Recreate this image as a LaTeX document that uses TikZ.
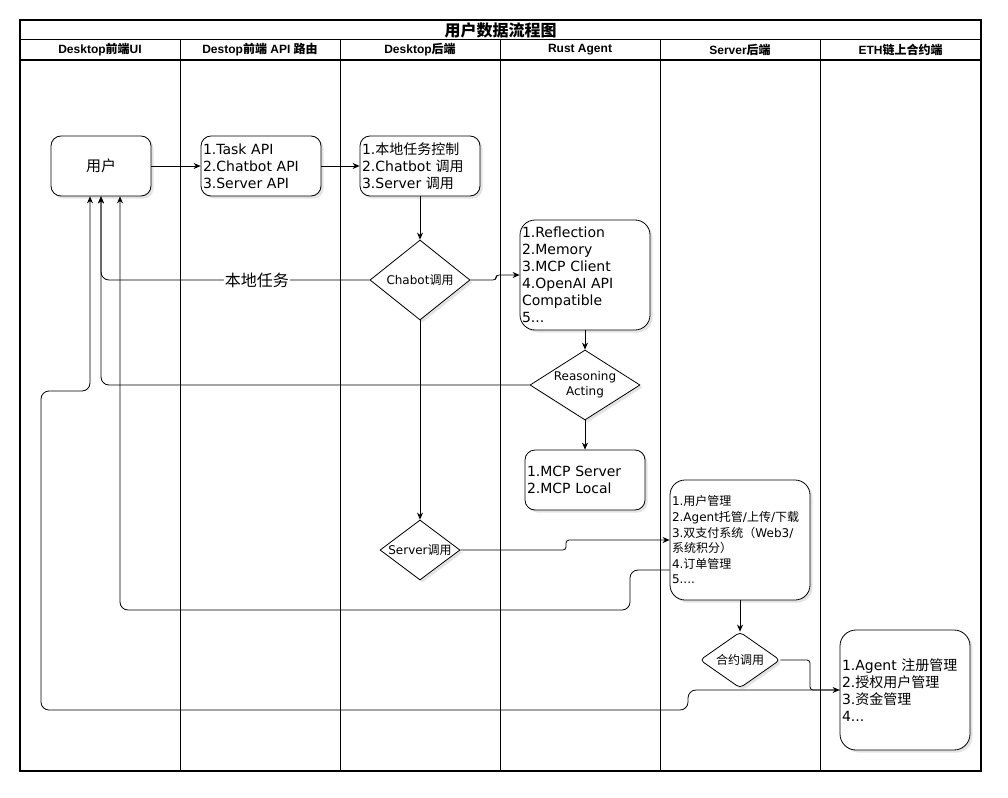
\documentclass[tikz,border=0pt]{standalone}
\usepackage{fontspec}
\setmainfont{DejaVu Sans}
\newfontfamily\cjk{Noto Sans CJK SC}
\newfontfamily\hdrfont{Liberation Sans}
\newcommand{\cj}[1]{{\cjk #1}}
\usetikzlibrary{shapes.geometric,calc,arrows.meta,shadows}

\tikzset{
  frame/.style={draw=black, line width=1pt},
  lanehead/.style={font=\hdrfont\bfseries\fontsize{12}{14}\selectfont, anchor=center},
  shadowed/.style={drop shadow={shadow xshift=2.5pt, shadow yshift=-2.5pt, opacity=.18, fill=black!60}},
  card/.style={draw=black, line width=0.8pt, fill=white, rounded corners=10pt, shadowed,
    align=left, inner sep=2pt, font=\fontsize{14}{17}\selectfont},
  % empty diamond of a fixed size; its text is set as a centred label
  choice/.style={draw=black, line width=0.8pt, fill=white, diamond, inner sep=0pt, shadowed,
    label={[font=\fontsize{12}{15}\selectfont, align=center]center:#1}},
  flow/.style={draw=black, line width=0.8pt, rounded corners=8pt, -{Stealth[length=7pt,width=6pt]}},
  lbl/.style={fill=white, inner sep=1pt, font=\fontsize{16}{18}\selectfont},
}

\begin{document}
\begin{tikzpicture}[x=1pt, y=-1pt]
\useasboundingbox (0,0) rectangle (1008,797);
\fill[white] (0,0) rectangle (1008,797);

% swimlane frame
\draw[frame, line width=1.3pt] (20,20) rectangle (981,771);
\draw[frame] (20,40) -- (981,40);
\draw[frame, line width=1.3pt] (20,60) -- (981,60);
\foreach \x in {180,340,500,660,820} {\draw[frame] (\x,40) -- (\x,771);}
\node[font=\hdrfont\bfseries\fontsize{16}{18}\selectfont] (title) at (500.5,30) {\cj{用户数据流程图}};
\node[lanehead] (h1) at (100,50) {Desktop\cj{前端}UI};
\node[lanehead] (h2) at (260,50) {Destop\cj{前端} API \cj{路由}};
\node[lanehead] (h3) at (420,50) {Desktop\cj{后端}};
\node[lanehead] (h4) at (580,50) {Rust Agent};
\node[lanehead] (h5) at (740,50) {Server\cj{后端}};
\node[lanehead] (h6) at (900.5,50) {ETH\cj{链上合约端}};

% nodes
\node[card, minimum width=100pt, minimum height=60pt, align=center, font=\fontsize{15}{18}\selectfont] (user) at (101,166) {\cj{用户}};
\node[card, minimum width=120pt, minimum height=60pt, text width=116pt] (api) at (261,166)
  {1.Task API\\2.Chatbot API\\3.Server API};
\node[card, minimum width=120pt, minimum height=60pt, text width=116pt] (back) at (420,166)
  {1.\cj{本地任务控制}\\2.Chatbot \cj{调用}\\3.Server \cj{调用}};
\node[choice={Chabot\cj{调用}}, minimum width=100pt, minimum height=80pt] (chabot) at (420,280) {};
\node[card, rounded corners=15pt, minimum width=130pt, minimum height=110pt, text width=126pt] (rust) at (585,275)
  {1.Reflection\\2.Memory\\3.MCP Client\\4.OpenAI API\\Compatible\\5...};
\node[choice={Reasoning\\Acting}, minimum width=110pt, minimum height=70pt] (reason) at (585,385) {};
\node[card, minimum width=120pt, minimum height=60pt, text width=116pt] (mcp) at (585,480)
  {1.MCP Server\\2.MCP Local};
\node[choice={Server\cj{调用}}, minimum width=80pt, minimum height=60pt] (srvcall) at (420,550) {};
\node[card, rounded corners=15pt, minimum width=140pt, minimum height=120pt, text width=136pt,
  font=\fontsize{12}{15.6}\selectfont] (srv) at (740,540)
  {1.\cj{用户管理}\\2.Agent\cj{托管}/\cj{上传}/\cj{下载}\\3.\cj{双支付系统（}Web3/\\\cj{系统积分）}\\4.\cj{订单管理}\\5....};
\node[choice={\cj{合约调用}}, rounded corners=4pt, minimum width=80pt, minimum height=56pt] (heyue) at (740,660) {};
\node[card, rounded corners=16pt, minimum width=130pt, minimum height=120pt, text width=126pt] (eth) at (905,690)
  {1.Agent \cj{注册管理}\\2.\cj{授权用户管理}\\3.\cj{资金管理}\\4...};

% connectors
\draw[flow] (user.east) -- (api.west);
\draw[flow] (api.east) -- (back.west);
\draw[flow] (back.south) -- (chabot.north);
\draw[flow] (chabot.south) -- (srvcall.north);
\draw[flow, rounded corners=3pt] (chabot.east) -- (496,280) -- (496,275) -- (rust.west);
\draw[flow] (rust.south) -- (reason.north);
\draw[flow] (reason.south) -- (mcp.north);
\draw[flow] (srv.south) -- (heyue.north);
\draw[flow, rounded corners=3pt] (srvcall.east) -- (566,550) -- (566,540) -- (srv.west);
\draw[flow, rounded corners=3pt] (heyue.east) -- (810,660) -- (810,690) -- (eth.west);

% returns to the user box
\draw[flow] (chabot.west) -- node[lbl, pos=0.42] {\cj{本地任务}} (user.south |- chabot.west) -- (user.south);
\draw[flow] (reason.west) -- (user.south |- reason.west) -- (user.south);
\coordinate (srvout) at ($(srv.west)+(0,30)$);
\coordinate (userR) at ($(user.south)+(19,0)$);
\draw[flow] (srvout) -- (630,570) -- (630,610) -- (userR |- 0,610) -- (userR);
\coordinate (userL) at ($(user.south)+(-11,0)$);
\draw[flow] (eth.west) -- (688,690) -- (688,710) -- (41,710) -- (41,391) -- (userL |- 0,391) -- (userL);
\end{tikzpicture}
\end{document}
